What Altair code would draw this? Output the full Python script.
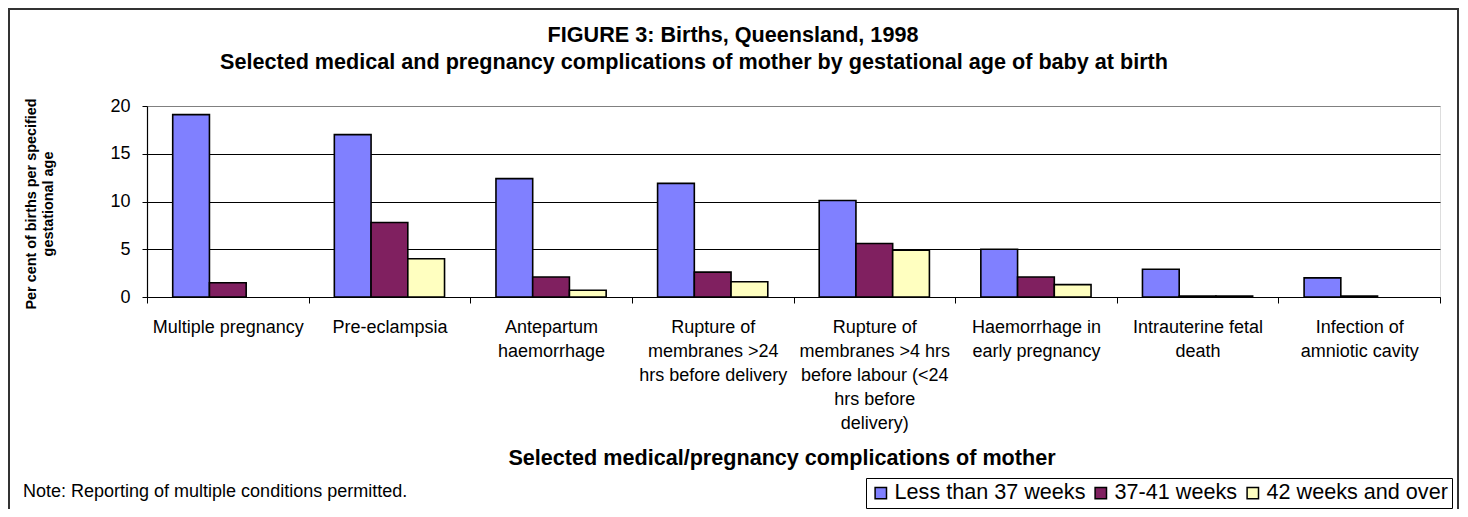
import altair as alt
import pandas as pd

# ---- data ----
categories = [
    "Multiple pregnancy",
    "Pre-eclampsia",
    "Antepartum|haemorrhage",
    "Rupture of|membranes >24|hrs before delivery",
    "Rupture of|membranes >4 hrs|before labour  (<24|hrs before|delivery)",
    "Haemorrhage in|early pregnancy",
    "Intrauterine fetal|death",
    "Infection of|amniotic cavity",
]
series = ["Less than 37 weeks", "37-41 weeks", "42 weeks and over"]
less_than_37 = [19.1, 17.0, 12.4, 11.9, 10.1, 5.0, 2.9, 2.0]
weeks_37_41 = [1.5, 7.8, 2.1, 2.6, 5.6, 2.1, 0.1, 0.1]
weeks_42_plus = [0.0, 4.0, 0.7, 1.6, 4.9, 1.3, 0.1, 0.0]
colors = ["#8080FF", "#802060", "#FFFFC0"]
y_ticks = [0, 5, 10, 15, 20]

title_text = "FIGURE 3: Births, Queensland, 1998"
subtitle_text = "Selected medical and pregnancy complications of mother by gestational age of  baby at birth"
x_title_text = "Selected medical/pregnancy complications of mother"
y_title_lines = ["Per cent of births per specified", "gestational age"]
note_text = "Note: Reporting of multiple conditions permitted."

rows = []
for vals, s in zip([less_than_37, weeks_37_41, weeks_42_plus], series):
    for c, v in zip(categories, vals):
        rows.append({"category": c, "series": s, "value": v})
df = pd.DataFrame(rows)

FONT = "Liberation Sans"
W, H = 1293, 191

bars = alt.Chart(df).transform_filter("datum.value > 0").mark_bar(
    stroke="black", strokeWidth=1.6
).encode(
    x=alt.X("category:N", sort=categories,
            scale=alt.Scale(paddingInner=0, paddingOuter=0),
            axis=alt.Axis(title=None, labelExpr="split(datum.label, '|')",
                          labelAngle=0, labelFontSize=18, labelColor="black",
                          labelFont=FONT, labelLineHeight=24, labelLimit=400,
                          labelBaseline="alphabetic", labelPadding=29,
                          tickBand="extent", tickSize=6, tickColor="black",
                          domainColor="black", domainWidth=1.2, grid=False)),
    xOffset=alt.XOffset("series:N", sort=series,
                        scale=alt.Scale(paddingOuter=0.7, paddingInner=0)),
    y=alt.Y("value:Q", scale=alt.Scale(domain=[0, 20], nice=False),
            axis=alt.Axis(title=None, values=y_ticks, labelFontSize=18,
                          labelColor="black", labelFont=FONT, tickSize=5,
                          tickColor="black", labelPadding=12,
                          domainColor="black", domainWidth=1.2,
                          gridColor={"condition": {"test": "datum.value === 20", "value": "#808080"},
                                     "value": "black"},
                          gridWidth=1)),
    color=alt.Color("series:N", sort=series,
                    scale=alt.Scale(domain=series, range=colors),
                    legend=alt.Legend(orient="none", legendX=719, legendY=372,
                                      direction="horizontal", title=None,
                                      labelFontSize=21.6, labelFont=FONT,
                                      labelColor="black", labelLimit=500,
                                      symbolType="square",
                                      symbolSize=130, symbolStrokeColor="black",
                                      symbolStrokeWidth=1.5, strokeColor="black",
                                      fillColor="white", padding=4,
                                      columnPadding=4, labelOffset=3)),
)


def text_layer(txt, x, y, size, bold=False, align="center", angle=0, baseline="alphabetic"):
    return alt.Chart(pd.DataFrame({"t": [txt]})).mark_text(
        font=FONT, fontSize=size, fontWeight="bold" if bold else "normal",
        align=align, baseline=baseline, angle=angle, color="black"
    ).encode(x=alt.value(x), y=alt.value(y), text="t:N")


border = alt.Chart(pd.DataFrame({"t": [0]})).mark_rect(
    fillOpacity=0, stroke="#333333", strokeWidth=2
).encode(x=alt.value(-138), x2=alt.value(1311), y=alt.value(-97), y2=alt.value(430))

layers = [
    border,
    bars,
    text_layer(title_text, 586, -64, 21.6, bold=True),
    text_layer(subtitle_text, 547, -37, 21.6, bold=True),
    text_layer(x_title_text, 635, 359, 21.6, bold=True),
    text_layer(y_title_lines[0], -115, 98, 14.4, bold=True, angle=270, baseline="middle"),
    text_layer(y_title_lines[1], -98.5, 98, 14.4, bold=True, angle=270, baseline="middle"),
    text_layer(note_text, -124, 391, 18, align="left"),
]

chart = alt.layer(*layers).properties(
    width=W, height=H,
    padding={"left": 139, "top": 98, "right": 20, "bottom": 212},
    autosize=alt.AutoSizeParams(type="none"),
).configure_view(stroke="#808080", strokeWidth=2).configure(font=FONT, background="white")

chart.save("out.html", embed_options={"renderer": "svg", "actions": False})
